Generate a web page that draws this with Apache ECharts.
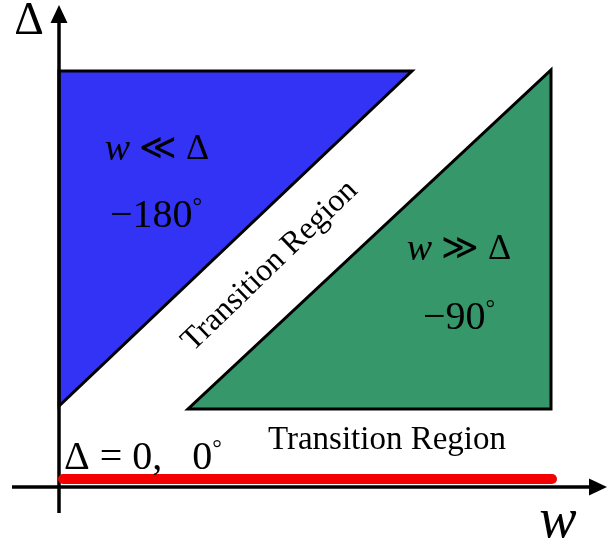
<!DOCTYPE html>
<html><head><meta charset="utf-8">
<script src="https://cdn.jsdelivr.net/npm/echarts@6/dist/echarts.min.js"></script>
<style>html,body{margin:0;padding:0;background:#fff}#chart{width:607px;height:545px}</style>
</head><body><div id="chart"></div>
<script>
// Regions of the (w, Δ) plane, in plot units with the origin at the axes crossing
const lowFreqRegion = [[0, 416], [353, 416], [0, 81]];      // w ≪ Δ
const highFreqRegion = [[129, 78], [492, 78], [492, 417]];  // w ≫ Δ
const zeroDetuning = [[4, 8], [493, 8]];                    // Δ = 0
const wAxisLine = [[-47, 0], [548, 0]];
const deltaAxisLine = [[0, -26], [0, 482]];

const SERIF = '"Liberation Serif", "Times New Roman", "DejaVu Serif", serif';
const regions = [
  { pts: lowFreqRegion, color: '#3333f5' },
  { pts: highFreqRegion, color: '#36976a' }
];
const axisLines = [wAxisLine, deltaAxisLine];

// small raised degree ring and italic variable used inside the labels
const rich = {
  i: { fontStyle: 'italic', fontFamily: SERIF, fontSize: 38, lineHeight: 44 },
  d: { fontFamily: SERIF, fontSize: 24, lineHeight: 44, verticalAlign: 'top', padding: [2, 0, 0, 0] }
};

const chart = echarts.init(document.getElementById('chart'), null, { renderer: 'canvas' });

function arrowLine(api, seg) {
  const a = api.coord(seg[0]), b = api.coord(seg[1]);
  const dx = b[0] - a[0], dy = b[1] - a[1];
  const len = Math.hypot(dx, dy), ux = dx / len, uy = dy / len;
  const head = 18, half = 8.5;
  const base = [b[0] - ux * head, b[1] - uy * head];
  return {
    type: 'group',
    children: [
      { type: 'line', shape: { x1: a[0], y1: a[1], x2: base[0], y2: base[1] },
        style: { stroke: '#000', lineWidth: 3.5 } },
      { type: 'polygon', shape: { points: [b,
          [base[0] - uy * half, base[1] + ux * half],
          [base[0] + uy * half, base[1] - ux * half]] },
        style: { fill: '#000' } }
    ]
  };
}

function label(x, y, text, size, extra) {
  return Object.assign({ type: 'text', x: x, y: y, z: 10,
    style: { text: text, font: size + 'px ' + SERIF, fill: '#000', textAlign: 'center',
      textVerticalAlign: 'middle', lineHeight: 44, rich: rich } }, extra || {});
}

chart.setOption({
  animation: false,
  backgroundColor: '#fff',
  grid: { left: 0, right: 0, top: 0, bottom: 0 },
  xAxis: { type: 'value', min: -59, max: 548, show: false },
  yAxis: { type: 'value', min: -58, max: 487, show: false },
  series: [
    {
      type: 'custom', z: 2,
      data: regions.map((r, i) => [i]),
      renderItem: (params, api) => {
        const r = regions[params.dataIndex];
        return { type: 'polygon',
          shape: { points: r.pts.map(p => api.coord(p)) },
          style: { fill: r.color, stroke: '#000', lineWidth: 3, lineJoin: 'miter' } };
      }
    },
    {
      type: 'line', z: 4, data: zeroDetuning, symbol: 'none',
      lineStyle: { color: '#f40000', width: 10, cap: 'round' }
    },
    {
      type: 'custom', z: 3,
      data: axisLines.map((s, i) => [i]),
      renderItem: (params, api) => arrowLine(api, axisLines[params.dataIndex])
    }
  ],
  graphic: [
    { type: 'text', x: 29, y: 22, z: 10, style: { text: 'Δ', font: '46px ' + SERIF, fill: '#000', textAlign: 'center', textVerticalAlign: 'middle' } },
    { type: 'text', x: 558, y: 522, z: 10, style: { text: 'w', font: 'italic 56px ' + SERIF, fill: '#000', textAlign: 'center', textVerticalAlign: 'middle' } },
    label(157, 150, '{i|w} ≪ Δ', 36),
    label(156, 216, '−180{d|°}', 40),
    label(459, 250, '{i|w} ≫ Δ', 36),
    label(459, 318, '−90{d|°}', 40),
    { type: 'text', x: 270, y: 266, rotation: 44 * Math.PI / 180, z: 10, style: { x: 0, y: 0, text: 'Transition Region', font: '32px ' + SERIF, fill: '#000', textAlign: 'center', textVerticalAlign: 'middle' } },
    { type: 'text', x: 387, y: 440, z: 10, style: { text: 'Transition Region', font: '33px ' + SERIF, fill: '#000', textAlign: 'center', textVerticalAlign: 'middle' } },
    label(64, 458, 'Δ = 0,   0{d|°}', 40, { style: { text: 'Δ = 0,   0{d|°}', font: '40px ' + SERIF, fill: '#000', textAlign: 'left', textVerticalAlign: 'middle', lineHeight: 44, rich: rich } })
  ]
});
</script>
</body></html>
